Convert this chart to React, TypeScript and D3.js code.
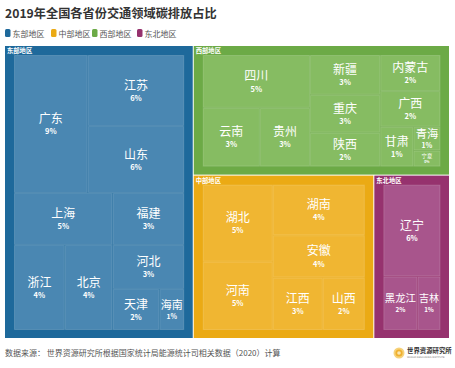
import { useEffect, useRef } from "react";
import * as d3 from "d3";

const regionNames = ["东部地区", "中部地区", "西部地区", "东北地区"];
const regionColors = ["#1e699b", "#ebaa14", "#6caa46", "#96326e"];
const cellColors = ["#4a87b2", "#f0b632", "#86bc62", "#a8558c"];

const eastNames = ["广东", "江苏", "山东", "上海", "浙江", "北京", "福建", "河北", "天津", "海南"];
const eastValues = [9.23, 6.22, 5.87, 4.65, 3.92, 3.69, 3.38, 2.86, 1.74, 0.93];

const centralNames = ["湖北", "河南", "湖南", "安徽", "江西", "山西"];
const centralValues = [5.2, 4.6, 4.48, 3.75, 2.52, 2.12];

const westNames = ["四川", "云南", "贵州", "新疆", "重庆", "陕西", "内蒙古", "广西", "甘肃", "青海", "宁夏"];
const westValues = [5.45, 3.23, 2.83, 2.69, 2.56, 2.29, 2.09, 2.07, 1.27, 0.62, 0.42];

const northeastNames = ["辽宁", "黑龙江", "吉林"];
const northeastValues = [6.0, 2.09, 1.41];

const title = "2019年全国各省份交通领域碳排放占比";
const source = "数据来源： 世界资源研究所根据国家统计局能源统计司相关数据（2020）计算";

const FONT = "'Noto Sans CJK SC', 'Noto Sans', sans-serif";

export default function App() {
  const ref = useRef(null);

  useEffect(() => {
    const width = 455;
    const height = 368;
    const margin = { top: 46, right: 6, bottom: 30, left: 5 };

    const svg = d3.select(ref.current);
    svg.selectAll("*").remove();
    svg.attr("width", width).attr("height", height).attr("viewBox", `0 0 ${width} ${height}`);

    svg.append("rect").attr("width", width).attr("height", height).attr("fill", "#fff");

    // title
    svg
      .append("text")
      .attr("x", 5)
      .attr("y", 18)
      .attr("font-family", FONT)
      .attr("font-size", 12.2)
      .attr("font-weight", "bold")
      .attr("fill", "#333")
      .text(title);

    // legend
    const legendX = [5, 51, 92, 137];
    const legend = svg
      .append("g")
      .selectAll("g")
      .data(regionNames)
      .join("g")
      .attr("transform", (d, i) => `translate(${legendX[i]},29)`);
    legend
      .append("rect")
      .attr("width", 5.5)
      .attr("height", 8)
      .attr("rx", 1.5)
      .attr("fill", (d, i) => regionColors[i]);
    legend
      .append("text")
      .attr("x", 7.5)
      .attr("y", 7.5)
      .attr("font-family", FONT)
      .attr("font-size", 8)
      .attr("fill", "#555")
      .text((d) => d);

    const groups = [
      [eastNames, eastValues],
      [centralNames, centralValues],
      [westNames, westValues],
      [northeastNames, northeastValues],
    ];

    const data = {
      name: "全国",
      children: regionNames.map((r, i) => ({
        name: r,
        region: i,
        children: groups[i][0].map((n, j) => ({ name: n, region: i, value: groups[i][1][j] })),
      })),
    };

    const root = d3
      .hierarchy(data)
      .sum((d) => d.value || 0)
      .sort((a, b) => b.value - a.value);

    d3
      .treemap()
      .tile(d3.treemapBinary)
      .size([width - margin.left - margin.right, height - margin.top - margin.bottom])
      .paddingInner((d) => (d.depth === 0 ? 1 : 0))
      .paddingTop((d) => (d.depth === 1 ? 9 : 0))
      .paddingLeft((d) => (d.depth === 1 ? 9 : 0))
      .paddingRight((d) => (d.depth === 1 ? 8.5 : 0))
      .paddingBottom((d) => (d.depth === 1 ? 8 : 0))
      .round(false)(root);

    const g = svg.append("g").attr("transform", `translate(${margin.left},${margin.top})`);

    const parents = g.append("g").selectAll("g").data(root.children).join("g");
    parents
      .append("rect")
      .attr("x", (d) => d.x0)
      .attr("y", (d) => d.y0)
      .attr("width", (d) => d.x1 - d.x0)
      .attr("height", (d) => d.y1 - d.y0)
      .attr("fill", (d) => regionColors[d.data.region]);
    parents
      .append("text")
      .attr("x", (d) => d.x0 + 2)
      .attr("y", (d) => d.y0 + 7)
      .attr("font-family", FONT)
      .attr("font-size", 6.3)
      .attr("font-weight", "bold")
      .attr("fill", "#fff")
      .text((d) => d.data.name);

    const leaves = g
      .append("g")
      .selectAll("g")
      .data(root.leaves())
      .join("g");

    leaves
      .append("clipPath")
      .attr("id", (d, i) => `clip-${i}`)
      .append("rect")
      .attr("x", (d) => d.x0)
      .attr("y", (d) => d.y0)
      .attr("width", (d) => d.x1 - d.x0)
      .attr("height", (d) => d.y1 - d.y0);

    leaves
      .append("rect")
      .attr("x", (d) => d.x0 + 0.5)
      .attr("y", (d) => d.y0 + 0.5)
      .attr("width", (d) => Math.max(0, d.x1 - d.x0 - 1))
      .attr("height", (d) => Math.max(0, d.y1 - d.y0 - 1))
      .attr("fill", (d) => cellColors[d.data.region])
      .attr("stroke", "rgba(255,255,255,0.16)")
      .attr("stroke-width", 1);

    leaves
      .append("g")
      .attr("clip-path", (d, i) => `url(#clip-${i})`)
      .each(function (d) {
        const w = d.x1 - d.x0;
        const h = d.y1 - d.y0;
        const n = d.data.name.length;
        const fs = Math.min(12, (w - 3) / n, h < 20 ? h / 3 : h / 2.1);
        const cx = (d.x0 + d.x1) / 2;
        const cy = (d.y0 + d.y1) / 2;
        const sel = d3.select(this);
        sel
          .append("text")
          .attr("x", cx)
          .attr("y", cy - fs * 0.08)
          .attr("text-anchor", "middle")
          .attr("font-family", FONT)
          .attr("font-size", fs)
          .attr("fill", "#fff")
          .text(d.data.name);
        sel
          .append("text")
          .attr("x", cx)
          .attr("y", cy + fs * 0.85)
          .attr("text-anchor", "middle")
          .attr("font-family", FONT)
          .attr("font-size", fs * 0.62)
          .attr("font-weight", "bold")
          .attr("fill", "#fff")
          .text(`${Math.round(d.data.value)}%`);
      });

    // footer
    svg
      .append("text")
      .attr("x", 5)
      .attr("y", 356)
      .attr("font-family", FONT)
      .attr("font-size", 8)
      .attr("fill", "#555")
      .text(source);

    const logo = svg.append("g").attr("transform", "translate(399,353)");
    logo.append("circle").attr("r", 5.5).attr("fill", "#f6d27a");
    logo.append("circle").attr("r", 3.6).attr("fill", "#efb02e");
    logo.append("circle").attr("r", 1.8).attr("fill", "#fbe6b0");
    logo
      .append("text")
      .attr("x", 8)
      .attr("y", 0)
      .attr("font-family", FONT)
      .attr("font-size", 6.4)
      .attr("font-weight", "bold")
      .attr("fill", "#333")
      .text("世界资源研究所");
    logo
      .append("text")
      .attr("x", 8)
      .attr("y", 4.5)
      .attr("font-family", "'DejaVu Sans', sans-serif")
      .attr("font-size", 2.4)
      .attr("fill", "#777")
      .text("WORLD RESOURCES INSTITUTE");
  }, []);

  return (
    <div style={{ position: "absolute", left: 0, top: 0 }}>
      <svg ref={ref} style={{ display: "block" }} />
    </div>
  );
}
